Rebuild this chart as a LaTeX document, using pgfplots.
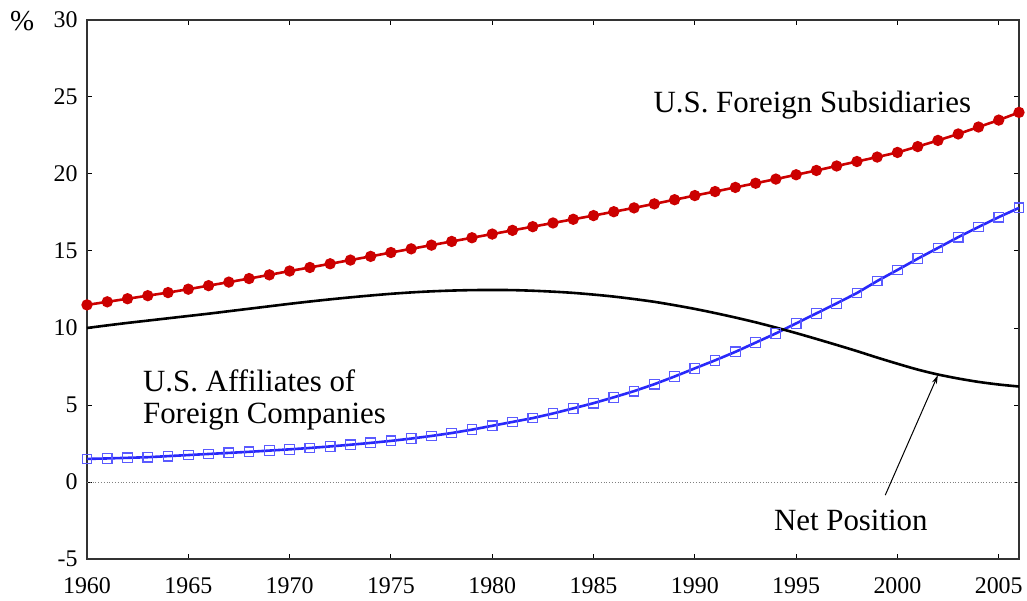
\documentclass[border=0pt]{standalone}
\usepackage{pgfplots}
\pgfplotsset{compat=1.18}
\usepackage{fontspec}
\setmainfont{Liberation Serif}
\usetikzlibrary{arrows.meta}
\definecolor{myred}{RGB}{204,0,0}
\definecolor{myblue}{RGB}{40,40,250}
\definecolor{mysq}{RGB}{90,90,255}
\begin{document}
\begin{tikzpicture}[x=1bp,y=1bp]
\begin{axis}[
  scale only axis,
  width=932bp, height=539bp,
  xmin=1960, xmax=2006, ymin=-5, ymax=30,
  xtick={1960,1965,...,2005},
  ytick={-5,0,...,30},
  /pgf/number format/assume math mode=true,
  /pgf/number format/1000 sep={},
  tick label style={font=\fontsize{24}{28}\selectfont},
  axis line style={line width=1.3bp, black!80},
  major tick length=5bp,
  tick style={line width=1bp, black},
  xticklabel style={yshift=-15bp},
  yticklabel style={xshift=-6bp},
  clip=false,
]
\addplot[gray, dotted, line width=0.8bp] coordinates {(1960,0) (2006,0)};

\addplot[myred, line width=2.6bp, mark=*, mark size=4.3bp, mark options={fill=myred, draw=myred}] coordinates {
(1960,11.50) (1961,11.70) (1962,11.90) (1963,12.10) (1964,12.30) (1965,12.52) (1966,12.75) (1967,12.98) (1968,13.21) (1969,13.45)
(1970,13.70) (1971,13.93) (1972,14.17) (1973,14.41) (1974,14.65) (1975,14.90) (1976,15.14) (1977,15.38) (1978,15.62) (1979,15.86)
(1980,16.10) (1981,16.34) (1982,16.58) (1983,16.82) (1984,17.06) (1985,17.30) (1986,17.55) (1987,17.80) (1988,18.06) (1989,18.33)
(1990,18.60) (1991,18.86) (1992,19.13) (1993,19.40) (1994,19.67) (1995,19.95) (1996,20.23) (1997,20.52) (1998,20.81) (1999,21.10)
(2000,21.40) (2001,21.78) (2002,22.18) (2003,22.60) (2004,23.05) (2005,23.50) (2006,24.00)};

\addplot[myblue, line width=2.6bp, mark=square, mark size=4.8bp, mark options={draw=mysq, line width=1.2bp, fill=none}] coordinates {
(1960,1.50) (1961,1.53) (1962,1.57) (1963,1.61) (1964,1.68) (1965,1.75) (1966,1.82) (1967,1.89) (1968,1.96) (1969,2.04)
(1970,2.12) (1971,2.21) (1972,2.31) (1973,2.42) (1974,2.54) (1975,2.67) (1976,2.82) (1977,2.99) (1978,3.18) (1979,3.40)
(1980,3.65) (1981,3.90) (1982,4.15) (1983,4.45) (1984,4.78) (1985,5.12) (1986,5.50) (1987,5.90) (1988,6.35) (1989,6.85)
(1990,7.38) (1991,7.90) (1992,8.45) (1993,9.05) (1994,9.65) (1995,10.30) (1996,10.95) (1997,11.60) (1998,12.27) (1999,13.05)
(2000,13.77) (2001,14.50) (2002,15.20) (2003,15.90) (2004,16.56) (2005,17.20) (2006,17.80)};

\addplot[black, line width=2.6bp, smooth, no marks] coordinates {
(1960,10.00) (1961,10.17) (1962,10.33) (1963,10.48) (1964,10.63) (1965,10.78) (1966,10.93) (1967,11.09) (1968,11.25) (1969,11.41)
(1970,11.57) (1971,11.72) (1972,11.86) (1973,11.99) (1974,12.11) (1975,12.22) (1976,12.31) (1977,12.38) (1978,12.43) (1979,12.46)
(1980,12.47) (1981,12.46) (1982,12.42) (1983,12.36) (1984,12.28) (1985,12.17) (1986,12.04) (1987,11.88) (1988,11.70) (1989,11.48)
(1990,11.24) (1991,10.97) (1992,10.68) (1993,10.37) (1994,10.03) (1995,9.67) (1996,9.29) (1997,8.90) (1998,8.50) (1999,8.08)
(2000,7.68) (2001,7.30) (2002,6.98) (2003,6.72) (2004,6.50) (2005,6.33) (2006,6.20)};

\node[anchor=base, font=\fontsize{31}{35}\selectfont, inner sep=0pt] at (axis cs:1995.8,24.0) {U.S. Foreign Subsidiaries};
\node[anchor=base west, font=\fontsize{31}{35}\selectfont, inner sep=0pt] at (axis cs:1962.76,5.86) {U.S. Affiliates of};
\node[anchor=base west, font=\fontsize{31}{35}\selectfont, inner sep=0pt] at (axis cs:1962.76,3.81) {Foreign Companies};
\node[anchor=base west, font=\fontsize{31}{35}\selectfont, inner sep=0pt] at (axis cs:1993.9,-3.12) {Net Position};
\draw[line width=1bp, -{Stealth[length=9bp,width=5bp]}] (axis cs:1999.4,-0.85) -- (axis cs:2002,6.95);
\node[anchor=base west, font=\fontsize{29}{32}\selectfont, inner sep=0pt] at ([xshift=-77bp,yshift=-11bp]axis cs:1960,30) {\%};
\end{axis}
\pgfresetboundingbox
\path ([xshift=-87bp,yshift=-42bp]current axis.south west) rectangle ([xshift=8bp,yshift=20bp]current axis.north east);
\end{tikzpicture}
\end{document}
